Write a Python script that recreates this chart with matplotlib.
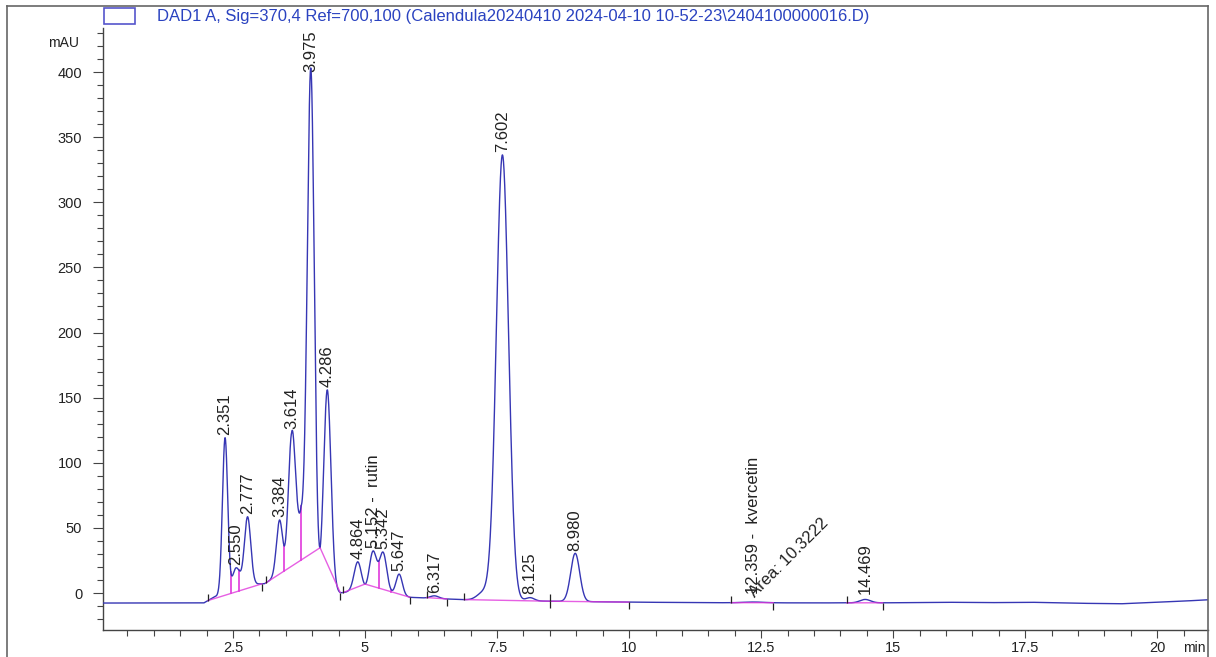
import numpy as np
import matplotlib.pyplot as plt
from matplotlib.lines import Line2D
from matplotlib.patches import Rectangle
from matplotlib.ticker import MultipleLocator, FuncFormatter

plt.rcParams['font.family'] = ['Liberation Sans', 'DejaVu Sans']

W, H = 1216, 657

SIGNAL_NAME = r"DAD1 A, Sig=370,4 Ref=700,100 (Calendula20240410 2024-04-10 10-52-23\2404100000016.D)"

# Peak table: retention time (min), height above background (mAU), sigma (min)
peak_rt = [2.351, 2.550, 2.777, 3.384, 3.614, 3.975, 4.286, 4.864, 5.152,
           5.342, 5.647, 6.317, 7.25, 7.602, 8.125, 8.980, 12.359, 14.469]
peak_height = [120, 16, 52, 42, 105, 373, 153, 22, 32,
               31.7, 16, 2.0, 6, 342, 2.5, 37, 0.6, 2.6]
peak_sigma = [0.05, 0.07, 0.06, 0.06, 0.065, 0.065, 0.07, 0.07, 0.07,
              0.07, 0.06, 0.08, 0.12, 0.115, 0.08, 0.085, 0.2, 0.1]
peak_label = ["2.351", "2.550", "2.777", "3.384", "3.614", "3.975", "4.286",
              "4.864", "5.152 -  rutin", "5.342", "5.647", "6.317", "",
              "7.602", "8.125", "8.980", "12.359 -  kvercetin", "14.469"]

# Slow background under the peaks (min, mAU)
bg_t = [0.04, 1.95, 2.15, 2.35, 2.46, 2.55, 2.62, 2.78, 2.95, 3.10, 3.38,
        3.47, 3.61, 3.79, 3.975, 4.15, 4.29, 4.53, 4.86, 5.0, 5.26, 5.5,
        5.65, 5.85, 6.5, 7.0, 8.5, 10.0, 11.0, 12.0, 13.5, 15.0, 16.0,
        16.8, 17.6, 18.4, 19.3, 20.0, 20.5, 20.96]
bg_y = [-7.7, -7.6, -3.0, -1.0, -2.0, 3.0, 6.0, 6.5, 6.8, 7.2, 14.0,
        12.0, 18.0, 58.0, 30.0, 1.5, 3.0, 0.0, 2.0, 0.5, -1.2, -0.8,
        -1.5, -3.3, -4.5, -5.3, -6.3, -7.0, -7.3, -7.5, -7.6, -7.5, -7.1,
        -7.4, -7.1, -7.8, -8.3, -7.0, -6.2, -5.2]

# Integration baselines (nan separates the segments), drop lines, markers
bl_t = [2.03, 3.05, np.nan, 3.12, 4.15, 4.53, np.nan, 4.59, 5.0, 5.85,
        np.nan, 6.17, 6.55, np.nan, 6.88, 8.5, 10.0, np.nan, 11.93, 12.73,
        np.nan, 14.12, 14.8]
drop_t = [2.46, 2.61, 3.47, 3.79, 5.26, 5.5]
tick_start = [2.03, 3.12, 4.59, 6.17, 6.88, 8.5, 11.93, 14.12]
tick_end = [3.05, 4.53, 5.85, 6.55, 8.5, 10.0, 12.73, 14.8]

area_rt = 12.42
area_text = "Area: 10.3222"

TRACE = '#3636b4'
BASE = '#e038dc'
LEGEND = '#2a42c0'
AXIS = '#444444'

t = np.linspace(0.04, 20.96, 8000)
trace = np.interp(t, bg_t, bg_y)
for rt, h, s in zip(peak_rt, peak_height, peak_sigma):
    trace = trace + h * np.exp(-0.5 * ((t - rt) / s) ** 2)

fig = plt.figure(figsize=(W / 100, H / 100), dpi=100)
ax = fig.add_axes([103 / W, 1 - 630 / H, (1208 - 103) / W, (630 - 28) / H])

ax.plot(t, trace, color=TRACE, lw=1.0, zorder=3)

bl_t = np.array(bl_t)
bl_y = np.interp(bl_t, t, trace)
ax.plot(bl_t, bl_y, color=BASE, lw=1.0, alpha=0.8, zorder=3.5)

ok = ~np.isnan(bl_t)
for d in drop_t:
    y0 = np.interp(d, bl_t[ok], bl_y[ok])
    y1 = np.interp(d, t, trace)
    ax.plot([d, d], [y0, y1], color=BASE, lw=1.2, zorder=2)

ax.plot(tick_start, np.interp(tick_start, t, trace), ls='none', marker=2,
        ms=5, mew=0.9, color='#222222', zorder=4)
ax.plot(tick_end, np.interp(tick_end, t, trace), ls='none', marker=3,
        ms=5, mew=0.9, color='#222222', zorder=4)

for rt, lab in zip(peak_rt, peak_label):
    if not lab:
        continue
    y = np.interp(rt, t, trace)
    y = min(max(y, -3.0), 398)
    ax.annotate(lab, (rt, y), xytext=(0, 2), textcoords='offset points',
                rotation=90, ha='center', va='bottom', fontsize=12,
                color='#222222', zorder=5)

ax.text(area_rt, -5.5, area_text, rotation=45, rotation_mode='anchor',
        ha='left', va='bottom', fontsize=12, color='#222222')

ax.set_xlim(0.04, 20.96)
ax.set_ylim(-28.4, 433.8)

ax.xaxis.set_major_locator(MultipleLocator(2.5))
ax.xaxis.set_minor_locator(MultipleLocator(0.5))
ax.xaxis.set_major_formatter(FuncFormatter(lambda v, p: f"{v:g}"))
ax.yaxis.set_major_locator(MultipleLocator(50))
ax.yaxis.set_minor_locator(MultipleLocator(10))

for side in ('top', 'right'):
    ax.spines[side].set_visible(False)
for side in ('left', 'bottom'):
    ax.spines[side].set_color(AXIS)
    ax.spines[side].set_linewidth(1.0)

ax.tick_params(axis='y', which='major', length=7, width=0.8, color=AXIS,
               labelsize=10.5, pad=8, labelcolor='#222222')
ax.tick_params(axis='y', which='minor', length=4, width=0.8, color=AXIS)
ax.tick_params(axis='x', which='major', length=6, width=0.8, color=AXIS,
               labelsize=10.5, pad=2, labelcolor='#222222')
ax.tick_params(axis='x', which='minor', length=4, width=0.8, color=AXIS)

fig.text(64 / W, 1 - 43 / H, "mAU", ha='center', va='center', fontsize=10,
         color='#222222')
fig.text(1194 / W, 1 - 648 / H, "min", ha='center', va='center',
         fontsize=10, color='#222222')

# Legend entry of the signal
fig.add_artist(Rectangle((104 / W, 1 - 24 / H), 31 / W, 16 / H,
                         transform=fig.transFigure, fill=False,
                         edgecolor='#5555cc', lw=1.2))
fig.text(157 / W, 1 - 16 / H, SIGNAL_NAME, ha='left', va='center',
         fontsize=12, color=LEGEND)

# Outer frame
frame = dict(transform=fig.transFigure, color='#666666', lw=1.2)
fig.add_artist(Line2D([7 / W, 1208 / W], [1 - 6 / H, 1 - 6 / H], **frame))
fig.add_artist(Line2D([7 / W, 7 / W], [0, 1 - 6 / H], **frame))
fig.add_artist(Line2D([1208 / W, 1208 / W], [0, 1 - 6 / H], **frame))

fig.savefig('out.png', dpi=100)
